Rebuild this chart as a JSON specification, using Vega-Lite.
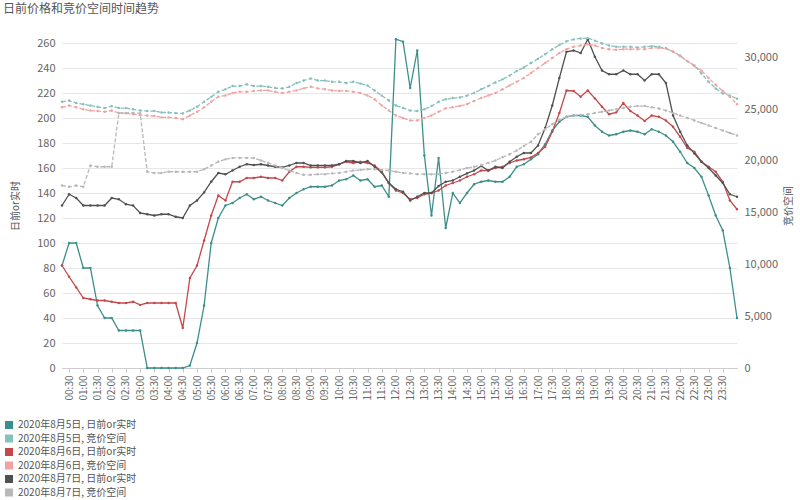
{
  "$schema": "https://vega.github.io/schema/vega-lite/v6.json",
  "width": 675,
  "height": 325,
  "autosize": {"type": "none"},
  "padding": {"left": 62, "top": 43, "right": 63, "bottom": 132},
  "background": "white",
  "config": {"font": "Noto Sans CJK SC", "view": {"stroke": null}},
  "title": {"text": "日前价格和竞价空间时间趋势", "anchor": "start", "frame": "group", "dx": -59, "fontSize": 12, "fontWeight": "normal", "color": "#555", "offset": 20},
  "data": {"values": [
    {"t":"00:15","a":82,"b":25700,"c":82,"d":25170,"e":130,"f":17620},
    {"t":"00:30","a":100,"b":25820,"c":73,"d":25350,"e":139,"f":17500},
    {"t":"00:45","a":100,"b":25580,"c":64.5,"d":25170,"e":136,"f":17620},
    {"t":"01:00","a":80,"b":25460,"c":56,"d":24980,"e":130,"f":17500},
    {"t":"01:15","a":80,"b":25340,"c":55,"d":24860,"e":130,"f":19550},
    {"t":"01:30","a":50,"b":25220,"c":54,"d":24820,"e":130,"f":19430},
    {"t":"01:45","a":40,"b":25100,"c":54,"d":24740,"e":130,"f":19430},
    {"t":"02:00","a":40,"b":25280,"c":53,"d":24860,"e":136,"f":19430},
    {"t":"02:15","a":30,"b":25100,"c":52,"d":24620,"e":135,"f":24620},
    {"t":"02:30","a":30,"b":25100,"c":52,"d":24590,"e":131,"f":24620},
    {"t":"02:45","a":30,"b":24980,"c":53,"d":24500,"e":130,"f":24620},
    {"t":"03:00","a":30,"b":24860,"c":50.5,"d":24430,"e":124,"f":24590},
    {"t":"03:15","a":0,"b":24810,"c":52,"d":24380,"e":123,"f":18950},
    {"t":"03:30","a":0,"b":24810,"c":52,"d":24330,"e":122,"f":18830},
    {"t":"03:45","a":0,"b":24670,"c":52,"d":24200,"e":123,"f":18830},
    {"t":"04:00","a":0,"b":24670,"c":52,"d":24200,"e":123,"f":18950},
    {"t":"04:15","a":0,"b":24610,"c":52,"d":24140,"e":121,"f":18950},
    {"t":"04:30","a":0,"b":24580,"c":32,"d":24020,"e":120,"f":18950},
    {"t":"04:45","a":2,"b":24860,"c":72,"d":24380,"e":130,"f":18950},
    {"t":"05:00","a":20,"b":25220,"c":82,"d":24740,"e":134,"f":18950},
    {"t":"05:15","a":50,"b":25700,"c":102,"d":25170,"e":140.5,"f":19190},
    {"t":"05:30","a":100,"b":26180,"c":122,"d":25710,"e":149,"f":19550},
    {"t":"05:45","a":120,"b":26670,"c":138,"d":26190,"e":156,"f":19920},
    {"t":"06:00","a":130,"b":26910,"c":134,"d":26310,"e":155,"f":20160},
    {"t":"06:15","a":132,"b":27220,"c":149,"d":26550,"e":158,"f":20280},
    {"t":"06:30","a":136,"b":27220,"c":149,"d":26670,"e":161,"f":20280},
    {"t":"06:45","a":139,"b":27390,"c":152,"d":26670,"e":163,"f":20280},
    {"t":"07:00","a":135,"b":27220,"c":152,"d":26750,"e":162.4,"f":20280},
    {"t":"07:15","a":137,"b":27220,"c":153,"d":26800,"e":163,"f":20040},
    {"t":"07:30","a":134,"b":27150,"c":152,"d":26800,"e":162,"f":19800},
    {"t":"07:45","a":132,"b":27030,"c":152,"d":26670,"e":161,"f":19550},
    {"t":"08:00","a":130,"b":26990,"c":150,"d":26550,"e":160.5,"f":19310},
    {"t":"08:15","a":136,"b":27150,"c":157,"d":26670,"e":162,"f":19070},
    {"t":"08:30","a":140,"b":27510,"c":161,"d":26800,"e":164,"f":18830},
    {"t":"08:45","a":143,"b":27750,"c":161,"d":27000,"e":164,"f":18650},
    {"t":"09:00","a":145,"b":27960,"c":160.5,"d":27160,"e":162,"f":18650},
    {"t":"09:15","a":145,"b":27750,"c":160.5,"d":27000,"e":162,"f":18710},
    {"t":"09:30","a":145,"b":27750,"c":160.5,"d":26920,"e":162,"f":18710},
    {"t":"09:45","a":146,"b":27630,"c":161,"d":26800,"e":162,"f":18790},
    {"t":"10:00","a":150,"b":27630,"c":163,"d":26750,"e":163,"f":18830},
    {"t":"10:15","a":151,"b":27510,"c":165,"d":26750,"e":165.6,"f":18950},
    {"t":"10:30","a":154,"b":27630,"c":164,"d":26670,"e":165.6,"f":19070},
    {"t":"10:45","a":150,"b":27470,"c":165,"d":26550,"e":164,"f":19120},
    {"t":"11:00","a":151,"b":27270,"c":164,"d":26310,"e":165.6,"f":19190},
    {"t":"11:15","a":145,"b":26790,"c":162,"d":25950,"e":161,"f":19190},
    {"t":"11:30","a":146,"b":26300,"c":157,"d":25350,"e":156.5,"f":19120},
    {"t":"11:45","a":137,"b":25820,"c":148,"d":24860,"e":148,"f":19070},
    {"t":"12:00","a":263,"b":25340,"c":142,"d":24380,"e":143,"f":18950},
    {"t":"12:15","a":261,"b":25100,"c":140,"d":24140,"e":141,"f":18830},
    {"t":"12:30","a":224,"b":24860,"c":135,"d":23900,"e":134,"f":18790},
    {"t":"12:45","a":254,"b":24810,"c":136,"d":23900,"e":137,"f":18710},
    {"t":"13:00","a":170,"b":24980,"c":139,"d":24140,"e":140,"f":18710},
    {"t":"13:15","a":122,"b":25290,"c":140,"d":24380,"e":140,"f":18710},
    {"t":"13:30","a":168,"b":25700,"c":142,"d":24740,"e":145.6,"f":18710},
    {"t":"13:45","a":112,"b":25940,"c":146,"d":25070,"e":149,"f":18830},
    {"t":"14:00","a":140,"b":26060,"c":148,"d":25170,"e":150,"f":18950},
    {"t":"14:15","a":132,"b":26120,"c":150,"d":25300,"e":153,"f":19120},
    {"t":"14:30","a":140,"b":26300,"c":153,"d":25470,"e":155.7,"f":19310},
    {"t":"14:45","a":147,"b":26550,"c":155,"d":25780,"e":158,"f":19430},
    {"t":"15:00","a":149,"b":26910,"c":158,"d":26070,"e":161.6,"f":19600},
    {"t":"15:15","a":150,"b":27220,"c":158,"d":26310,"e":158,"f":19800},
    {"t":"15:30","a":149,"b":27570,"c":160,"d":26550,"e":161,"f":20040},
    {"t":"15:45","a":149,"b":27870,"c":161,"d":26920,"e":160,"f":20340},
    {"t":"16:00","a":153,"b":28230,"c":164,"d":27280,"e":165,"f":20640},
    {"t":"16:15","a":161,"b":28670,"c":166,"d":27640,"e":169,"f":21000},
    {"t":"16:30","a":163,"b":29020,"c":167,"d":28000,"e":172,"f":21440},
    {"t":"16:45","a":167,"b":29440,"c":168.5,"d":28490,"e":172,"f":21850},
    {"t":"17:00","a":171,"b":29860,"c":172,"d":28970,"e":178,"f":22570},
    {"t":"17:15","a":179,"b":30290,"c":177,"d":29450,"e":192,"f":23050},
    {"t":"17:30","a":190,"b":30770,"c":189,"d":29930,"e":210,"f":23540},
    {"t":"17:45","a":197,"b":31190,"c":204,"d":30420,"e":232,"f":23960},
    {"t":"18:00","a":201,"b":31550,"c":222,"d":30780,"e":253,"f":24260},
    {"t":"18:15","a":202,"b":31730,"c":221.6,"d":31020,"e":254,"f":24380},
    {"t":"18:30","a":202,"b":31820,"c":217,"d":31140,"e":252,"f":24440},
    {"t":"18:45","a":201,"b":31850,"c":222,"d":31260,"e":263,"f":24500},
    {"t":"19:00","a":194,"b":31610,"c":215.7,"d":31140,"e":249,"f":24620},
    {"t":"19:15","a":189,"b":31340,"c":209,"d":30900,"e":238,"f":24740},
    {"t":"19:30","a":186,"b":31130,"c":203,"d":30780,"e":235,"f":24860},
    {"t":"19:45","a":187,"b":31010,"c":204.5,"d":30720,"e":235,"f":24980},
    {"t":"20:00","a":189,"b":31010,"c":212,"d":30780,"e":238,"f":25110},
    {"t":"20:15","a":190,"b":31010,"c":205.6,"d":30780,"e":235,"f":25230},
    {"t":"20:30","a":189,"b":30950,"c":202,"d":30780,"e":235,"f":25290},
    {"t":"20:45","a":187,"b":31010,"c":197.6,"d":30780,"e":230,"f":25290},
    {"t":"21:00","a":191,"b":31080,"c":202,"d":30900,"e":235,"f":25170},
    {"t":"21:15","a":189,"b":31010,"c":201,"d":30900,"e":235,"f":25050},
    {"t":"21:30","a":186,"b":30890,"c":198,"d":30840,"e":228,"f":24860},
    {"t":"21:45","a":181,"b":30530,"c":193,"d":30540,"e":202,"f":24620},
    {"t":"22:00","a":173,"b":30170,"c":185,"d":30110,"e":189,"f":24380},
    {"t":"22:15","a":164,"b":29630,"c":176,"d":29630,"e":178,"f":24140},
    {"t":"22:30","a":160,"b":29200,"c":173,"d":29150,"e":171.7,"f":23900},
    {"t":"22:45","a":153,"b":28440,"c":165,"d":28730,"e":165,"f":23660},
    {"t":"23:00","a":138,"b":27630,"c":161,"d":28000,"e":160,"f":23420},
    {"t":"23:15","a":122,"b":26990,"c":157,"d":27340,"e":154,"f":23170},
    {"t":"23:30","a":110,"b":26510,"c":149,"d":26740,"e":148,"f":22930},
    {"t":"23:45","a":80,"b":26300,"c":134,"d":26190,"e":139,"f":22690},
    {"t":"24:00","a":40,"b":26000,"c":127,"d":25470,"e":137,"f":22450}
  ]},
  "encoding": {
    "x": {
      "field": "t", "type": "ordinal", "sort": null,
      "scale": {"type": "point", "padding": 0},
      "axis": {
        "title": null,
        "values": ["00:30","01:00","01:30","02:00","02:30","03:00","03:30","04:00","04:30","05:00","05:30","06:00","06:30","07:00","07:30","08:00","08:30","09:00","09:30","10:00","10:30","11:00","11:30","12:00","12:30","13:00","13:30","14:00","14:30","15:00","15:30","16:00","16:30","17:00","17:30","18:00","18:30","19:00","19:30","20:00","20:30","21:00","21:30","22:00","22:30","23:00","23:30"],
        "labelAngle": -90, "labelFontSize": 10, "labelColor": "#666",
        "grid": false, "domainColor": "#cccccc", "tickColor": "#cccccc", "tickSize": 4, "labelPadding": 3
      }
    }
  },
  "layer": [
    {
      "transform": [{"fold": ["a", "c", "e"], "as": ["s", "v"]}],
      "mark": {"type": "line", "strokeWidth": 1.3, "point": {"filled": true, "size": 6}},
      "encoding": {
        "y": {
          "field": "v", "type": "quantitative",
          "scale": {"domain": [0, 260], "nice": false},
          "axis": {
            "values": [0,20,40,60,80,100,120,140,160,180,200,220,240,260],
            "title": "日前or实时", "grid": true, "gridColor": "#e6e6e6", "domain": false, "ticks": false,
            "labelPadding": 7, "labelFontSize": 11, "labelColor": "#666",
            "titleFontSize": 10, "titleFontWeight": "normal", "titleColor": "#555", "titlePadding": 16
          }
        },
        "color": {
          "field": "s", "type": "nominal",
          "scale": {"domain": ["a","b","c","d","e","f"], "range": ["#3b8f8a","#86c0bc","#c4484b","#f0a3a3","#505050","#b8b8b8"]},
          "legend": {
            "title": null, "orient": "none", "legendX": -58, "legendY": 377, "padding": 0,
            "symbolType": "square", "symbolSize": 64, "symbolStrokeWidth": 0,
            "labelFontSize": 10, "labelColor": "#555", "rowPadding": 3.5, "labelOffset": 4,
            "labelExpr": "datum.label == 'a' ? '2020年8月5日, 日前or实时' : datum.label == 'b' ? '2020年8月5日, 竞价空间' : datum.label == 'c' ? '2020年8月6日, 日前or实时' : datum.label == 'd' ? '2020年8月6日, 竞价空间' : datum.label == 'e' ? '2020年8月7日, 日前or实时' : '2020年8月7日, 竞价空间'",
            "encode": {"symbols": {"update": {"fill": {"scale": "color", "field": "value"}, "opacity": {"value": 1}}}}
          }
        }
      }
    },
    {
      "transform": [{"fold": ["b", "d", "f"], "as": ["s", "v"]}],
      "mark": {"type": "line", "strokeWidth": 1.3, "strokeDash": [4, 2], "point": {"filled": true, "size": 6}},
      "encoding": {
        "y": {
          "field": "v", "type": "quantitative",
          "scale": {"domain": [0, 31380], "nice": false},
          "axis": {
            "orient": "right",
            "values": [0,5000,10000,15000,20000,25000,30000],
            "labelExpr": "format(datum.value, ',')",
            "title": "竞价空间", "grid": false, "domain": false, "ticks": false,
            "labelPadding": 7, "labelFontSize": 11, "labelColor": "#666",
            "titleFontSize": 10, "titleFontWeight": "normal", "titleColor": "#555", "titlePadding": 6,
            "titleAngle": -90, "titleBaseline": "top"
          }
        },
        "color": {
          "field": "s", "type": "nominal",
          "scale": {"domain": ["a","b","c","d","e","f"], "range": ["#3b8f8a","#86c0bc","#c4484b","#f0a3a3","#505050","#b8b8b8"]}
        }
      }
    }
  ],
  "resolve": {"scale": {"y": "independent"}}
}
